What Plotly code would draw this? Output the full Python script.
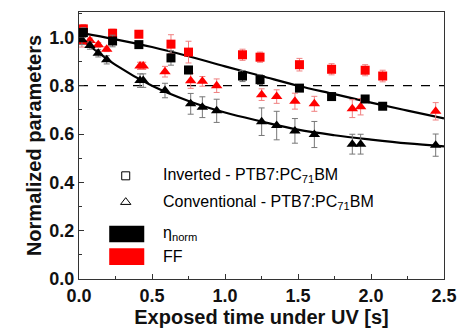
import plotly.graph_objects as go

# ---------------- data ----------------
inv_x = [0.03, 0.23, 0.41, 0.63, 0.75, 1.12, 1.24, 1.51, 1.73, 1.96, 2.08]
inv_eta = [1.02, 0.985, 0.97, 0.915, 0.865, 0.84, 0.825, 0.79, 0.755, 0.745, 0.715]
inv_eta_err = [0.02, 0.024, 0.01, 0.03, 0.015, 0.023, 0.02, 0.01, 0.01, 0.01, 0.01]
inv_ff = [1.035, 1.017, 1.013, 0.972, 0.939, 0.928, 0.918, 0.887, 0.868, 0.864, 0.84]
inv_ff_err = [0.018, 0.017, 0.01, 0.039, 0.045, 0.023, 0.021, 0.026, 0.023, 0.023, 0.024]

conv_x = [0.02, 0.075, 0.132, 0.19, 0.418, 0.44, 0.589, 0.765, 0.845, 0.943,
          1.251, 1.354, 1.479, 1.612, 1.872, 1.929, 2.443]
conv_eta = [0.99, 0.966, 0.934, 0.907, 0.821, 0.821, 0.78, 0.725, 0.711, 0.696,
            0.651, 0.635, 0.613, 0.598, 0.558, 0.558, 0.554]
conv_eta_err = [0.02, 0.015, 0.015, 0.017, 0.028, 0.028, 0.03, 0.043, 0.043, 0.048,
                0.057, 0.059, 0.051, 0.054, 0.041, 0.041, 0.046]
conv_ff = [0.98, 0.987, 0.969, 0.951, 0.882, 0.882, 0.858, 0.82, 0.818, 0.80,
           0.763, 0.755, 0.736, 0.725, 0.705, 0.713, 0.694]
conv_ff_err = [0.02, 0.01, 0.01, 0.01, 0.015, 0.015, 0.022, 0.031, 0.02, 0.028,
               0.024, 0.028, 0.033, 0.031, 0.037, 0.034, 0.036]

# fit curves
fit_x = [0.0, 0.25, 0.5, 0.75, 1.0, 1.25, 1.5, 1.75, 2.0, 2.25, 2.5]
fit_inv = [1.02, 0.992, 0.96, 0.922, 0.88, 0.84, 0.80, 0.765, 0.73, 0.697, 0.665]
fit_conv = [1.0, 0.886, 0.80, 0.737, 0.689, 0.652, 0.618, 0.595, 0.577, 0.561, 0.549]

ref_level = 0.8
x_ticks = [0.0, 0.5, 1.0, 1.5, 2.0, 2.5]
y_ticks = [0.0, 0.2, 0.4, 0.6, 0.8, 1.0]

label_inv = "Inverted - PTB7:PC<sub>71</sub>BM"
label_conv = "Conventional - PTB7:PC<sub>71</sub>BM"
label_eta = "η<sub>norm</sub>"
label_ff = "FF"

BLACK = "#000000"
RED = "#ff0000"
FONT = "Liberation Sans, Arial, sans-serif"

fig = go.Figure()

# dashed reference line
fig.add_trace(go.Scatter(x=[0, 2.5], y=[ref_level, ref_level], mode="lines",
                         line=dict(color=BLACK, width=1.3, dash="dash"),
                         showlegend=False, hoverinfo="skip"))

# fit lines
fig.add_trace(go.Scatter(x=fit_x, y=fit_inv, mode="lines", line=dict(color=BLACK, width=2.2, shape="spline"),
                         showlegend=False))
fig.add_trace(go.Scatter(x=fit_x, y=fit_conv, mode="lines", line=dict(color=BLACK, width=2.2, shape="spline"),
                         showlegend=False))

def pts(x, y, err, sym, col, ecol, size):
    fig.add_trace(go.Scatter(
        x=x, y=y, mode="markers",
        marker=dict(symbol=sym, color=col, size=size, line=dict(width=0)),
        error_y=dict(type="data", array=err, color=ecol, thickness=1, width=3),
        showlegend=False))

pts(conv_x, conv_ff, conv_ff_err, "triangle-up", RED, "#f08080", 10)
pts(inv_x, inv_ff, inv_ff_err, "square", RED, "#f08080", 9)
pts(conv_x, conv_eta, conv_eta_err, "triangle-up", BLACK, "#777777", 10)
pts(inv_x, inv_eta, inv_eta_err, "square", BLACK, "#777777", 9)

# custom legend
fig.add_trace(go.Scatter(x=[0.32], y=[0.427], mode="markers",
                         marker=dict(symbol="square-open", color=BLACK, size=8, line=dict(width=1)),
                         showlegend=False))
fig.add_trace(go.Scatter(x=[0.32], y=[0.318], mode="markers",
                         marker=dict(symbol="triangle-up-open", color=BLACK, size=9, line=dict(width=1)),
                         showlegend=False))
fig.add_shape(type="rect", xref="x", yref="y", x0=0.207, x1=0.447, y0=0.152, y1=0.22,
              fillcolor=BLACK, line=dict(width=0))
fig.add_shape(type="rect", xref="x", yref="y", x0=0.207, x1=0.447, y0=0.058, y1=0.127,
              fillcolor=RED, line=dict(width=0))

leg_font = dict(family=FONT, size=16, color=BLACK)
for txt, yy in [(label_inv, 0.427), (label_conv, 0.318), (label_eta, 0.19), (label_ff, 0.092)]:
    fig.add_annotation(x=0.565, y=yy, xref="x", yref="y", text=txt, showarrow=False,
                       xanchor="left", yanchor="middle", font=leg_font)

axis_common = dict(
    showgrid=False, zeroline=False, showline=True, linecolor="#333333", linewidth=1.2,
    mirror=True, ticks="inside", ticklen=5, tickwidth=1, tickcolor="#333333",
    tickfont=dict(family=FONT, size=18, color="#111111"), automargin=False,
)

fig.update_xaxes(range=[0, 2.5], tickvals=x_ticks, ticktext=[f"<b>{v:.1f}</b>" for v in x_ticks],
                 minor=dict(ticks="inside", ticklen=3, tickcolor="#333333", dtick=0.25, tick0=0),
                 title=dict(text="<b>Exposed time under UV [s]</b>", font=dict(family=FONT, size=20, color="#111111"),
                            standoff=3),
                 **axis_common)
fig.update_yaxes(range=[0, 1.105], tickvals=y_ticks, ticktext=[f"<b>{v:.1f}</b>" for v in y_ticks],
                 minor=dict(ticks="inside", ticklen=3, tickcolor="#333333", dtick=0.1, tick0=0),
                 title=dict(text="<b>Normalized parameters</b>", font=dict(family=FONT, size=20, color="#111111"),
                            standoff=2),
                 **axis_common)

fig.update_layout(width=461, height=331, margin=dict(l=79, r=17, t=12, b=52),
                  plot_bgcolor="white", paper_bgcolor="white", showlegend=False)

fig.write_html("out.html", config={"displayModeBar": False},
               post_script="document.body.style.margin='0';document.body.style.overflow='hidden';")
